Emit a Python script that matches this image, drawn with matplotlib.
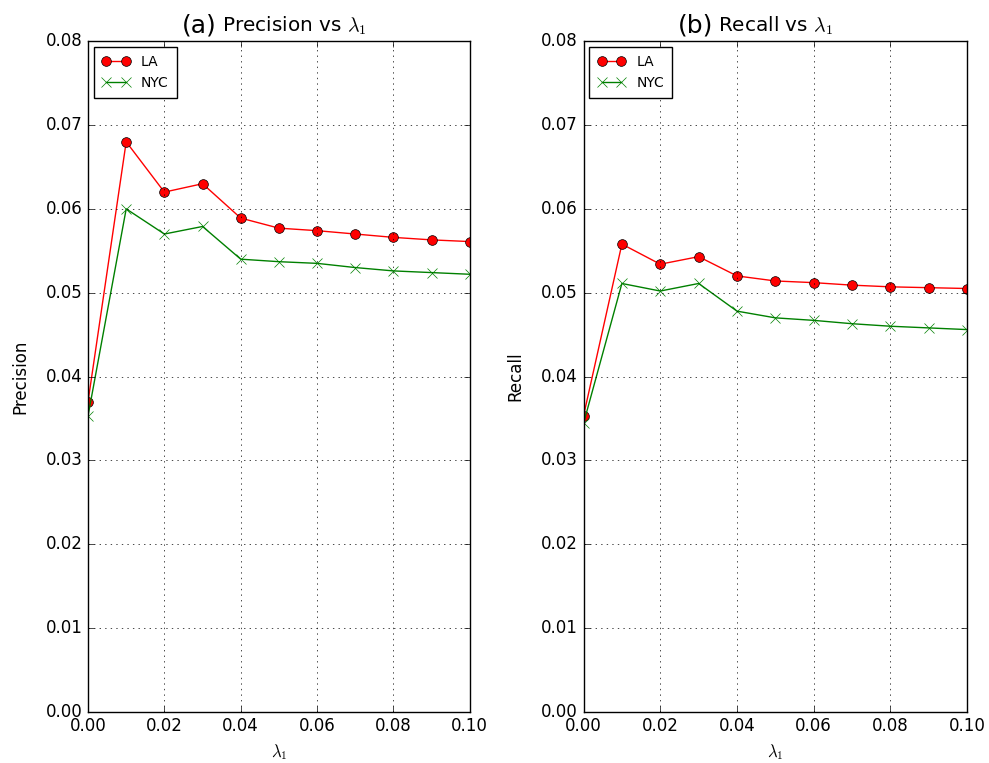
import numpy as np
import matplotlib
matplotlib.use("Agg")
import matplotlib.pyplot as plt

plt.style.use("classic")

# values
lambda1 = [0.00, 0.01, 0.02, 0.03, 0.04, 0.05, 0.06, 0.07, 0.08, 0.09, 0.10]
precision_la = [0.0370, 0.0680, 0.0620, 0.0630, 0.0589, 0.0577, 0.0574, 0.0570, 0.0566, 0.0563, 0.0561]
precision_nyc = [0.0353, 0.0600, 0.0570, 0.0579, 0.0540, 0.0537, 0.0535, 0.0530, 0.0526, 0.0524, 0.0522]
recall_la = [0.0353, 0.0558, 0.0534, 0.0543, 0.0520, 0.0514, 0.0512, 0.0509, 0.0507, 0.0506, 0.0505]
recall_nyc = [0.0344, 0.0511, 0.0502, 0.0511, 0.0478, 0.0470, 0.0467, 0.0463, 0.0460, 0.0458, 0.0456]

panels = [
    ("(a)", "Precision", precision_la, precision_nyc),
    ("(b)", "Recall", recall_la, recall_nyc),
]

fig = plt.figure(figsize=(9.89, 7.63), dpi=100, facecolor="white")
positions = [
    [0.089, 0.067, 0.386, 0.879],
    [0.590, 0.067, 0.388, 0.879],
]

for (tag, name, la, nyc), pos in zip(panels, positions):
    ax = fig.add_axes(pos)
    ax.plot(lambda1, la, "r-", marker="o", markersize=7,
            markeredgecolor="black", label="LA")
    ax.plot(lambda1, nyc, "g-", marker="x", markersize=7,
            markeredgecolor="g", label="NYC")
    ax.set_xlim(0, 0.1)
    ax.set_ylim(0, 0.08)
    ax.set_xticks(np.arange(0, 0.101, 0.02))
    ax.set_yticks(np.arange(0, 0.081, 0.01))
    ax.xaxis.set_major_formatter(matplotlib.ticker.FormatStrFormatter("%.2f"))
    ax.yaxis.set_major_formatter(matplotlib.ticker.FormatStrFormatter("%.2f"))
    ax.grid(True)
    ax.set_xlabel(r"$\lambda_1$", fontsize=12)
    ax.set_ylabel(name, fontsize=12, labelpad=12)
    ax.legend(loc="upper left", fontsize=10, numpoints=2,
              borderaxespad=0.4, handlelength=2.0, borderpad=0.6)
    # title: larger panel tag, then the name
    ax.text(0.338, 1.006, tag, transform=ax.transAxes, ha="right",
            va="bottom", fontsize=18)
    ax.text(0.351, 1.006, name + r" vs $\lambda_1$", transform=ax.transAxes,
            ha="left", va="bottom", fontsize=14.4)

fig.savefig("out.png", dpi=100, facecolor="white")
